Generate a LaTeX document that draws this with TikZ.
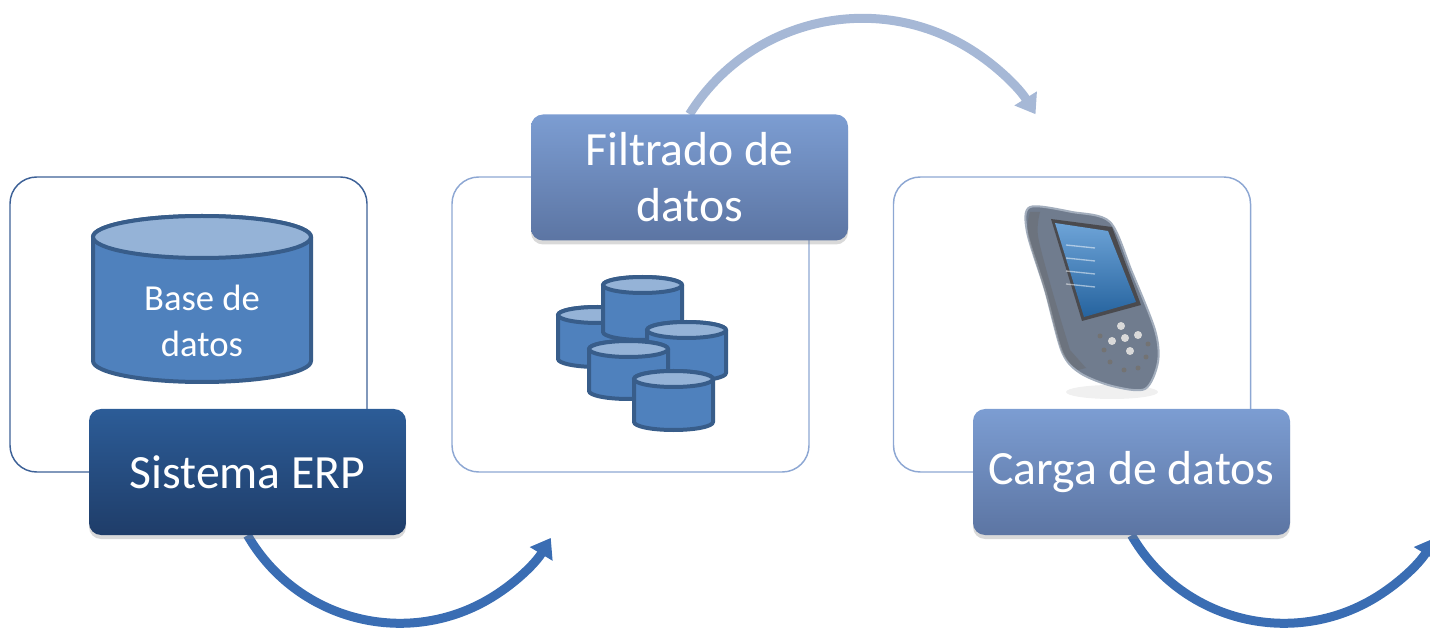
\documentclass[tikz,border=0pt]{standalone}
\usepackage{fontspec}
\setmainfont{Carlito}
\usetikzlibrary{arrows.meta,shadows,backgrounds}
\definecolor{erptop}{HTML}{2C5C97}
\definecolor{erpbot}{HTML}{1F3D69}
\definecolor{lbltop}{HTML}{7C9DD2}
\definecolor{lblbot}{HTML}{5C75A3}
\definecolor{panelone}{HTML}{3D6197}
\definecolor{paneltwo}{HTML}{8DA7D3}
\definecolor{flowblue}{HTML}{3A6DB3}
\definecolor{flowlight}{HTML}{A6B8D6}
\definecolor{cylfill}{HTML}{4F81BD}
\definecolor{cyllight}{HTML}{95B3D7}
\definecolor{cyledge}{HTML}{385D8A}
\definecolor{pdabody}{HTML}{707C8E}
\definecolor{pdaedge}{HTML}{A3AEBD}
\definecolor{pdabezel}{HTML}{4A4A4E}
\definecolor{pdascreen}{HTML}{2F7CC6}

% cylinder: left x, top centre y, width, body height, y radius
\newcommand{\dbcyl}[5]{%
  \filldraw[cylbody] (#1,#2) -- (#1,#2+#4) arc[start angle=180,end angle=0,x radius=#3/2,y radius=#5]
    -- (#1+#3,#2) arc[start angle=0,end angle=-180,x radius=#3/2,y radius=#5] -- cycle;
  \filldraw[cyltop] (#1+#3/2,#2) ellipse[x radius=#3/2,y radius=#5];
}

\begin{document}
\begin{tikzpicture}[
  x=0.75pt,y=-0.75pt,
  panel/.style={draw=#1,line width=1.1pt,rounded corners=20pt,minimum width=267.75pt,minimum height=221.25pt},
  lbl/.style={rounded corners=9pt,minimum width=237.75pt,minimum height=94.5pt,inner sep=0pt,text=white,align=center,
    font=\fontsize{35.8}{42}\selectfont,drop shadow={opacity=0.3,shadow xshift=0pt,shadow yshift=-3pt}},
  cylbody/.style={fill=cylfill,draw=cyledge,line width=3pt,line join=round},
  cyltop/.style={fill=cyllight,draw=cyledge,line width=3pt},
  flow/.style={line width=6.75pt,-{Triangle[length=14pt,width=19pt]}}
]
\useasboundingbox (0,0) rectangle (1430,630);

% panels
\node[panel=panelone] (p1) at (188.5,324.5) {};
\node[panel=paneltwo] (p2) at (630.5,324.5) {};
\node[panel=paneltwo] (p3) at (1072,324.5) {};

% database
\dbcyl{93}{237}{218}{124}{21}
\node[text=white,align=center,font=\fontsize{27.5}{34}\selectfont] (db) at (202,321) {Base de\\datos};

% filtered stores
\dbcyl{558}{315}{79}{44}{8}
\dbcyl{603}{285}{79}{47}{8}
\dbcyl{647}{330}{79}{43}{8}
\dbcyl{589}{349}{79}{42}{8}
\dbcyl{634}{379}{79}{43}{8}

% handheld
\fill[black,opacity=0.06] (1112,392) ellipse[x radius=46,y radius=7];
\filldraw[fill=pdabody,draw=pdaedge,line width=1.5pt] plot[smooth cycle] coordinates
  {(1030,207) (1072,212) (1110,222) (1132,272) (1155,330) (1158,362) (1145,389) (1112,386) (1080,373) (1062,352) (1045,290) (1027,232)};
\fill[black!60,opacity=0.4] plot[smooth] coordinates {(1030,212) (1028,235) (1045,292) (1062,352) (1078,370)}
  -- (1086,368) -- plot[smooth] coordinates {(1070,350) (1052,290) (1038,236) (1040,212)} -- cycle;
\fill[pdabezel] (1051,219) -- (1112,227) -- (1141,305) -- (1082,321) -- cycle;
\shade[top color=pdascreen!70!white,bottom color=pdascreen!80!black] (1055,223) -- (1108,231) -- (1136,302) -- (1084,317) -- cycle;
\foreach \yy in {245,258,271,284}
  \draw[white,opacity=0.5,line width=1pt] (1066,\yy) -- (1095,\yy+3);
\foreach \bx/\by in {1125/338,1121/326,1130/351,1112/341,1138/335}
  \fill[black!15] (\bx,\by) circle[radius=4];
\foreach \bx/\by in {1100/336,1104/350,1110/362,1148/344,1146/357,1138/368,1124/370}
  \fill[black!55] (\bx,\by) circle[radius=2.5];

% stage labels
\node[lbl,top color=erptop,bottom color=erpbot] (erp) at (247.5,472) {Sistema ERP};
\node[lbl,top color=lbltop,bottom color=lblbot] (filt) at (689.5,177.5) {Filtrado de\\datos};
\node[lbl,top color=lbltop,bottom color=lblbot] (carga) at (1131.5,472) {Carga de datos};

% flow arrows
\begin{scope}[on background layer]
\draw[flow,flowblue] (erp.south) arc[start angle=150,end angle=31,radius=176];
\draw[flow,flowlight] (filt.north) arc[start angle=-148,end angle=-32,radius=204];
\draw[flow,flowblue] (carga.south) arc[start angle=150,end angle=31,radius=176];
\end{scope}
\end{tikzpicture}
\end{document}
